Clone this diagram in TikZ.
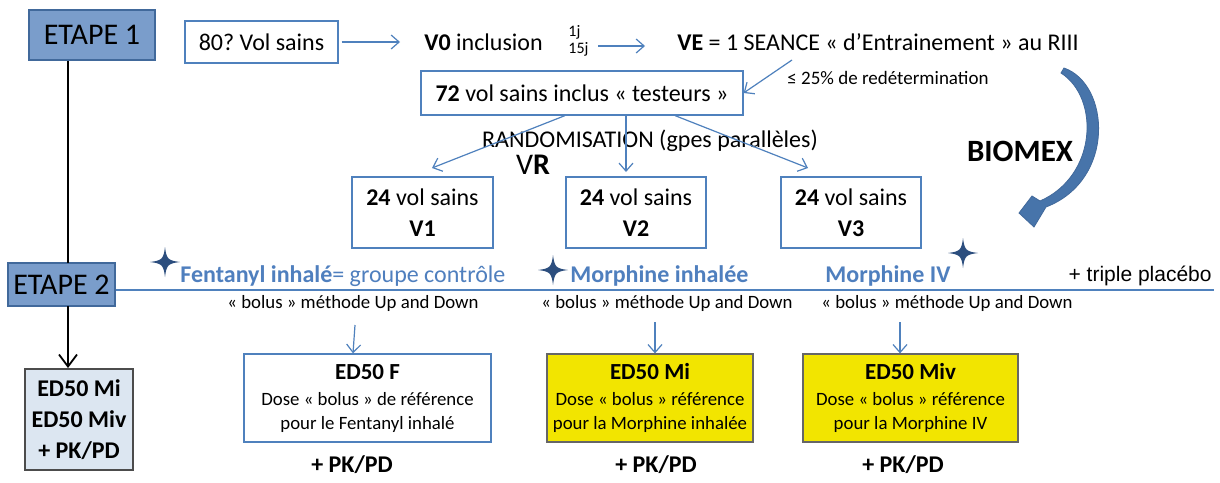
\documentclass[tikz,border=0pt]{standalone}
\usepackage{fontspec}
\setmainfont{Carlito}
\newfontfamily\arialf{Liberation Sans}
\usetikzlibrary{arrows.meta}
\definecolor{ablue}{HTML}{4F81BD}
\definecolor{tblue}{HTML}{4F7FBE}
\definecolor{etfill}{HTML}{7A9DCB}
\definecolor{etdraw}{HTML}{41699B}
\definecolor{starc}{HTML}{2C4E7E}
\definecolor{yel}{HTML}{F2E500}
\definecolor{lgray}{HTML}{DCE6F1}
\frenchspacing
\newcommand{\fs}[1]{\fontsize{#1}{\the\dimexpr #1pt*6/5\relax}\selectfont}
\newcommand{\dosef}{\fs{9.4}}
\tikzset{
  etape/.style={draw=etdraw, fill=etfill, line width=0.8pt, inner sep=0pt, font=\fs{15}},
  bbox/.style={draw=ablue, line width=0.6pt, fill=white, inner sep=0pt},
  txt/.style={inner sep=0pt, font=\fs{12}, align=center},
  barrow/.style={draw=ablue, line width=0.6pt, -{Straight Barb[length=4pt,width=7pt]}},
  karrow/.style={draw=black, line width=0.9pt},
  blab/.style={inner sep=0pt, font=\fs{12}, text=tblue},
  bolus/.style={inner sep=0pt, font=\fs{9.4}},
  ybox/.style={draw=gray!80!black, line width=0.6pt, fill=yel, inner sep=0pt},
}
\newcommand{\fourstar}[3]{% x, y, size
  \fill[starc] (#1,#2-#3) .. controls (#1+1.5,#2-3) and (#1+3,#2-1.5) .. (#1+#3,#2)
   .. controls (#1+3,#2+1.5) and (#1+1.5,#2+3) .. (#1,#2+#3)
   .. controls (#1-1.5,#2+3) and (#1-3,#2+1.5) .. (#1-#3,#2)
   .. controls (#1-3,#2-1.5) and (#1-1.5,#2-3) .. cycle;}
\begin{document}
\begin{tikzpicture}[x=0.5pt,y=-0.5pt]
\useasboundingbox (0,0) rectangle (1220,482);
\fill[white] (0,0) rectangle (1220,482);

% ETAPE boxes
\node[etape, minimum width=63pt, minimum height=25pt] (e1) at (92,35) {ETAPE 1};
\node[etape, minimum width=53.5pt, minimum height=21.5pt] (e2) at (61.5,284.5) {ETAPE 2};
\node[draw=gray!60!black, line width=0.8pt, fill=lgray, inner sep=0pt, minimum width=54pt, minimum height=50.5pt, align=center, font=\fs{12}\bfseries] (left) at (79,419.5) {ED50 Mi\\[1pt]ED50 Miv\\[1pt]+ PK/PD};
\draw[karrow] (e1.south -| 68,0) -- (68,263);
\draw[karrow, -{Straight Barb[length=6pt,width=9pt]}] (68,306) -- (68,368);

% top row
\node[bbox, minimum width=76.5pt, minimum height=21pt, font=\fs{12}] (b80) at (261.5,42) {80? Vol sains};
\node[txt, anchor=west] (v0) at (424,42) {\textbf{V0} inclusion};
\node[inner sep=0pt, font=\fs{8}, align=left, anchor=west] (jj) at (568,41) {1j\\[-1pt]15j};
\node[txt, anchor=west] (ve) at (677,42) {\textbf{VE} = 1 SEANCE « d’Entrainement » au RIII};
\draw[barrow] (b80.east) ++(3,0) coordinate (a1s) -- (400,42) coordinate (a1e);
\coordinate (a2s) at (598,46);
\coordinate (a2e) at (645,46);
\draw[barrow] (a2s) -- (a2e);

\node[bbox, minimum width=161pt, minimum height=22pt, font=\fs{12}] (b72) at (582,93) {\textbf{72} vol sains inclus « testeurs »};
\coordinate (a3s) at (792,60);
\draw[barrow] (a3s) -- (b72.east);
\node[inner sep=0pt, font=\fs{9.5}, anchor=west] (red) at (787,78) {≤ 25\% de redétermination};

% randomisation
\node[txt] (rand) at (650,141) {RANDOMISATION (gpes parallèles)};
\node[inner sep=0pt, font=\fs{15}] (vr) at (533,165) {V\textbf{R}};
\node[bbox, minimum width=70.5pt, minimum height=35.5pt, align=center, font=\fs{12}] (v1) at (422.5,212.5) {\textbf{24} vol sains\\[1pt]\textbf{V1}};
\node[bbox, minimum width=70pt, minimum height=35.5pt, align=center, font=\fs{12}] (v2) at (636,212.5) {\textbf{24} vol sains\\[1pt]\textbf{V2}};
\node[bbox, minimum width=70pt, minimum height=35.5pt, align=center, font=\fs{12}] (v3) at (851,212.5) {\textbf{24} vol sains\\[1pt]\textbf{V3}};
\draw[barrow] ([xshift=-8.5pt]b72.south) -- (432,168);
\draw[barrow] ([xshift=22pt]b72.south) -- (626,172);
\draw[barrow] ([xshift=46.5pt]b72.south) -- (808,168);

% BIOMEX
\node[inner sep=0pt, font=\fs{15.5}\bfseries] (bio) at (1020,151) {BIOMEX};
\fill[ablue!90!black, draw=etdraw, line width=0.4pt]
  (1064,68) .. controls (1110,84) and (1116,180) .. (1046,207)
  -- (1034,227) -- (1019,213) -- (1032,196) -- (1040,201)
  .. controls (1097,176) and (1100,98) .. (1061,73) -- cycle;

% stars
\fourstar{165}{262}{15}
\fourstar{553}{270}{15}
\fourstar{963}{253}{15}

% ETAPE 2 line
\draw[ablue, line width=0.9pt] ([yshift=-2.75pt]e2.east) -- (1214,290) coordinate (lineend);
\node[blab, anchor=west] (fent) at (180,276) {\textbf{Fentanyl inhalé}= groupe contrôle};
\node[blab, anchor=west] (mi) at (570,276) {\textbf{Morphine inhalée}};
\node[blab, anchor=west] (miv) at (825,276) {\textbf{Morphine IV}};
\node[inner sep=0pt, font=\arialf\fs{10.5}, anchor=east] (trip) at (1212,276) {+ triple placébo};
\node[bolus] (bo1) at (353,303) {« bolus » méthode Up and Down};
\node[bolus] (bo2) at (667,303) {« bolus » méthode Up and Down};
\node[bolus] (bo3) at (947,303) {« bolus » méthode Up and Down};

% bottom boxes
\node[bbox, minimum width=123.5pt, minimum height=44pt, align=center] (f) at (367.5,398) {{\fs{11.5}\bfseries ED50 F}\\[1pt]{\dosef Dose « bolus » de référence}\\{\dosef pour le Fentanyl inhalé}};
\node[ybox, minimum width=103pt, minimum height=44pt, align=center] (mib) at (650,398) {{\fs{11.5}\bfseries ED50 Mi}\\[1pt]{\dosef Dose « bolus » référence}\\{\dosef pour la Morphine inhalée}};
\node[ybox, minimum width=107.5pt, minimum height=44pt, align=center] (mivb) at (910.5,398) {{\fs{11.5}\bfseries ED50 Miv}\\[1pt]{\dosef Dose « bolus » référence}\\{\dosef pour la Morphine IV}};
\draw[barrow] (355,325) -- (f.north -| 353,0);
\draw[barrow] (655,322) -- (mib.north -| 655,0);
\draw[barrow] (900,322) -- (mivb.north -| 900,0);
\node[inner sep=0pt, font=\fs{12}\bfseries] (pk1) at (352,465) {+ PK/PD};
\node[inner sep=0pt, font=\fs{12}\bfseries] (pk2) at (656,465) {+ PK/PD};
\node[inner sep=0pt, font=\fs{12}\bfseries] (pk3) at (903,465) {+ PK/PD};
\end{tikzpicture}
\end{document}
